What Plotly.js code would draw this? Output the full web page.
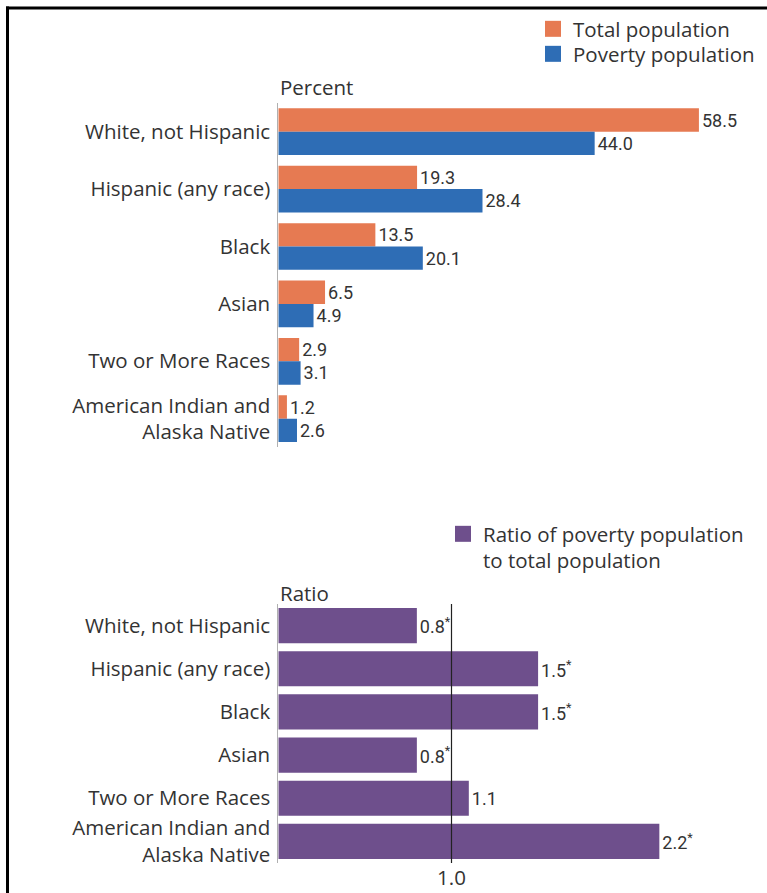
<!DOCTYPE html>
<html>
<head>
<meta charset="utf-8">
<script src="https://cdn.plot.ly/plotly-3.0.1.min.js"></script>
<style>html,body{margin:0;padding:0;background:#fff;}#chart{width:767px;height:893px;}</style>
</head>
<body>
<div id="chart"></div>
<script>
const categories = ['White, not Hispanic', 'Hispanic (any race)', 'Black', 'Asian', 'Two or More Races', 'American Indian and<br>Alaska Native'];
const totalPct = [58.5, 19.3, 13.5, 6.5, 2.9, 1.2];
const povertyPct = [44.0, 28.4, 20.1, 4.9, 3.1, 2.6];
const ratio = [0.8, 1.5, 1.5, 0.8, 1.1, 2.2];
const ratioSignificant = [true, true, true, true, false, true];
const seriesNames = ['Total population', 'Poverty population', 'Ratio of poverty population<br>to total population'];

const W = 767, H = 893;
const px = v => v / W;
const py = v => 1 - v / H;

const ORANGE = '#E67A52', BLUE = '#2E6DB5', PURPLE = '#6E4F8C', TXT = '#333333';
const LABEL_FONT = {family: '"Open Sans", "Noto Sans", sans-serif', size: 20.5, color: TXT};
const VALUE_FONT = {family: 'Roboto, "Liberation Sans", sans-serif', size: 18, color: TXT};

const fmt = v => v.toFixed(1);

const traces = [
  {type: 'bar', orientation: 'h', y: categories, x: totalPct, name: seriesNames[0],
   marker: {color: ORANGE}, text: totalPct.map(fmt), textposition: 'outside', cliponaxis: false,
   textfont: VALUE_FONT, xaxis: 'x', yaxis: 'y', showlegend: false, hoverinfo: 'x+y'},
  {type: 'bar', orientation: 'h', y: categories, x: povertyPct, name: seriesNames[1],
   marker: {color: BLUE}, text: povertyPct.map(fmt), textposition: 'outside', cliponaxis: false,
   textfont: VALUE_FONT, xaxis: 'x', yaxis: 'y', showlegend: false, hoverinfo: 'x+y'},
  {type: 'bar', orientation: 'h', y: categories, x: ratio, name: seriesNames[2],
   marker: {color: PURPLE}, text: ratio.map((v, i) => fmt(v) + (ratioSignificant[i] ? '<sup>*</sup>' : '')),
   textposition: 'outside', cliponaxis: false,
   textfont: VALUE_FONT, xaxis: 'x2', yaxis: 'y2', showlegend: false, hoverinfo: 'x+y'},
  // legend swatches
  {type: 'scatter', mode: 'markers', x: [null], y: [null], name: seriesNames[0], legend: 'legend',
   marker: {symbol: 'square', size: 16, color: ORANGE}, xaxis: 'x', yaxis: 'y'},
  {type: 'scatter', mode: 'markers', x: [null], y: [null], name: seriesNames[1], legend: 'legend3',
   marker: {symbol: 'square', size: 16, color: BLUE}, xaxis: 'x', yaxis: 'y'},
  {type: 'scatter', mode: 'markers', x: [null], y: [null], name: seriesNames[2], legend: 'legend2',
   marker: {symbol: 'square', size: 16, color: PURPLE}, xaxis: 'x2', yaxis: 'y2'}
];

const legendBase = {xanchor: 'left', yanchor: 'top', bgcolor: 'rgba(0,0,0,0)', borderwidth: 0,
                    font: LABEL_FONT, itemclick: false, valign: 'top'};

const layout = {
  width: W, height: H,
  margin: {l: 0, r: 0, t: 0, b: 0, pad: 0},
  paper_bgcolor: '#fff', plot_bgcolor: 'rgba(0,0,0,0)',
  font: LABEL_FONT,
  barmode: 'group',
  bargap: 0.186,
  bargroupgap: 0,
  xaxis: {domain: [px(278.3), px(278.3 + 60 * 7.19)], range: [0, 60], visible: false, fixedrange: true},
  yaxis: {domain: [py(447.4), py(103)], anchor: 'x', autorange: 'reversed', showline: true, linecolor: '#b0b0b0', linewidth: 1,
          ticks: '', showgrid: false, zeroline: false, tickfont: LABEL_FONT, ticklabelstandoff: 3},
  xaxis2: {domain: [px(278.3), px(278.3 + 2.4 * 173.2)], range: [0, 2.4], anchor: 'y2', showgrid: false, zeroline: false,
           showline: false, ticks: '', tickvals: [1], ticktext: ['1.0'], tickfont: LABEL_FONT},
  yaxis2: {domain: [py(863), py(604)], anchor: 'x2', autorange: 'reversed', showline: true, linecolor: '#b0b0b0', linewidth: 1,
           ticks: '', showgrid: false, zeroline: false, tickfont: LABEL_FONT, ticklabelstandoff: 3},
  legend: Object.assign({x: px(533), y: py(9)}, legendBase),
  legend3: Object.assign({x: px(533), y: py(34)}, legendBase),
  legend2: Object.assign({x: px(443), y: py(514)}, legendBase),
  annotations: [
    {text: 'Percent', xref: 'paper', yref: 'paper', x: px(278), y: py(87), xanchor: 'left', yanchor: 'middle', showarrow: false, font: LABEL_FONT},
    {text: 'Ratio', xref: 'paper', yref: 'paper', x: px(278), y: py(593), xanchor: 'left', yanchor: 'middle', showarrow: false, font: LABEL_FONT}
  ],
  shapes: [
    {type: 'line', xref: 'x2', yref: 'y2 domain', x0: 1, x1: 1, y0: 0, y1: 1, line: {color: '#222', width: 1.2}},
    {type: 'line', xref: 'paper', yref: 'paper', x0: px(7.5), x1: px(7.5), y0: py(6.5), y1: -0.05, line: {color: '#000', width: 3}},
    {type: 'line', xref: 'paper', yref: 'paper', x0: px(6), x1: 1.05, y0: py(8), y1: py(8), line: {color: '#000', width: 3}}
  ]
};

Plotly.newPlot('chart', traces, layout, {displayModeBar: false, staticPlot: true});
</script>
</body>
</html>
